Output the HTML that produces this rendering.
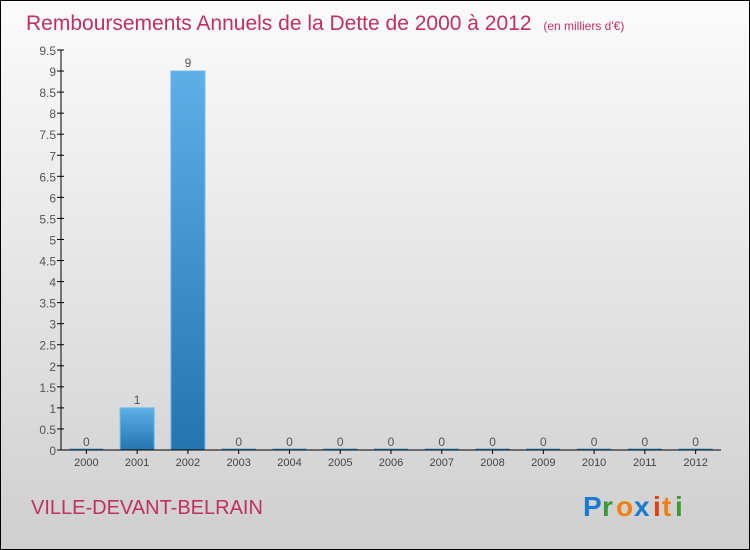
<!DOCTYPE html>
<html><head><meta charset="utf-8"><style>
body{margin:0}
#wrap{position:relative;width:748px;height:548px;border:1px solid #000;background:linear-gradient(#fbfbfb,#cfcfcf);font-family:"Liberation Sans",sans-serif;overflow:hidden}
</style></head><body>
<div id="wrap">
<svg id="chart" width="748" height="548">
<defs>
<linearGradient id="bg" x1="0" y1="0" x2="0" y2="1"><stop offset="0" stop-color="#5eaee8"/><stop offset="1" stop-color="#2474b0"/></linearGradient>
</defs>
<text x="25" y="29" font-size="21" fill="#c03060">Remboursements Annuels de la Dette de 2000 à 2012 <tspan font-size="12" dx="6">(en milliers d'€)</tspan></text>
<g id="plot"></g>
<text x="30" y="513" font-size="20" fill="#c03060">VILLE-DEVANT-BELRAIN</text>
<g font-size="28" font-weight="bold">
<text x="582" y="515" fill="#1a7ad0">P</text><text x="601" y="515" fill="#3a9a3a">r</text><text x="615" y="515" fill="#f08010">o</text><text x="633" y="515" fill="#1a7ad0">x</text><text x="652" y="515" fill="#e04010">i</text><text x="661" y="515" fill="#f08010">t</text><text x="674" y="515" fill="#3a9a3a">i</text>
</g>
</svg>
</div>
<script>
const categories=["2000","2001","2002","2003","2004","2005","2006","2007","2008","2009","2010","2011","2012"];
const values=[0,1,9,0,0,0,0,0,0,0,0,0,0];
const yTicks=[0,0.5,1,1.5,2,2.5,3,3.5,4,4.5,5,5.5,6,6.5,7,7.5,8,8.5,9,9.5];
const NS="http://www.w3.org/2000/svg";
const g=document.getElementById("plot");
const x0=60,x1=720,y0=449,yTop=49,yMax=9.5;
const band=(x1-x0)/categories.length;
function y(v){return y0-(v/yMax)*(y0-yTop);}
function xc(i){return x0+band*(i+0.5);}
function mk(t,a){const e=document.createElementNS(NS,t);for(const k in a)e.setAttribute(k,a[k]);g.appendChild(e);return e;}
yTicks.forEach(v=>{
 const l=mk("line",{x1:x0-4,x2:x0+3,y1:y(v),y2:y(v),stroke:"#000"});
 
 
 const t=mk("text",{x:x0-5,y:y(v)+5,"text-anchor":"end","font-size":"12",fill:"#555"});
 t.textContent=String(v).replace(/^0\./,"0.");
 
 
});
categories.forEach((c,i)=>{
 const v=values[i],w=34,bx=xc(i)-w/2;
 const h=Math.max(y0-y(v),1.5);
 const r=mk("rect",{x:bx,y:y0-h,width:w,height:h,fill:"url(#bg)",stroke:"#6ab8ee","stroke-width":v>0?1:0});
 
 
 const vl=mk("text",{x:xc(i),y:y(v)-4,"text-anchor":"middle","font-size":"12",fill:"#555"});
 vl.textContent=v;
 
 
 const tk=mk("line",{x1:xc(i),x2:xc(i),y1:y0,y2:y0+4,stroke:"#000"});
 
 
 const xl=mk("text",{x:xc(i),y:y0+16,"text-anchor":"middle","font-size":"11",fill:"#444"});
 xl.textContent=c;
 
 
});
const ya=mk("line",{x1:x0,x2:x0,y1:yTop,y2:y0,stroke:"#000"});


const xa=mk("line",{x1:x0-4,x2:x1,y1:y0,y2:y0,stroke:"#000"});


</script>
</body></html>
